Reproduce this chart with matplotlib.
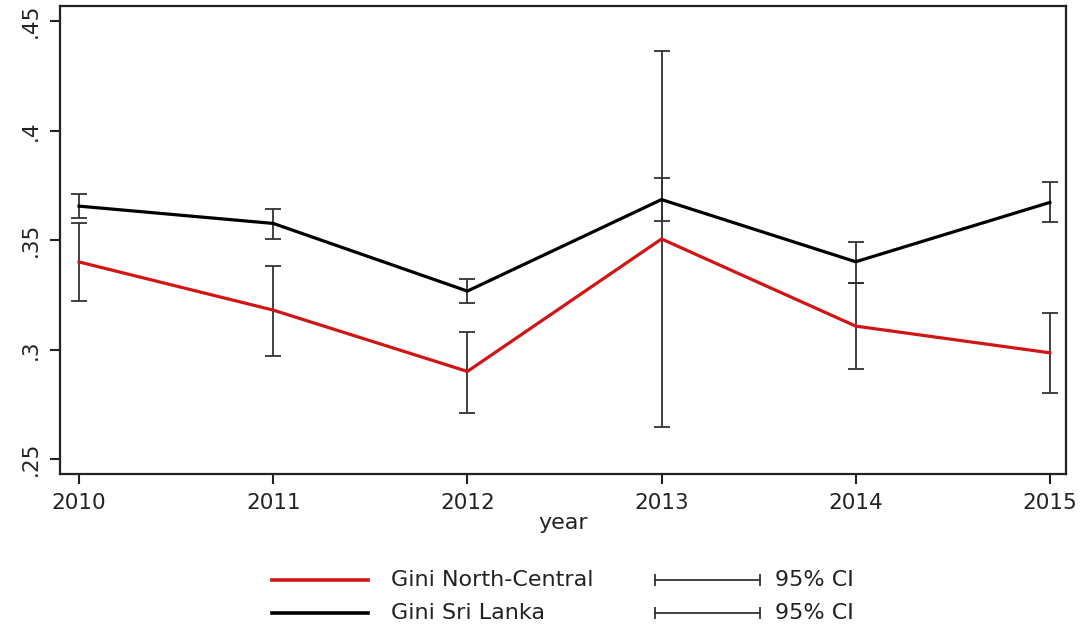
import matplotlib
matplotlib.use("Agg")
import matplotlib.pyplot as plt
from matplotlib.lines import Line2D
import numpy as np

plt.rcParams['font.family'] = ['DejaVu Sans']

years = [2010, 2011, 2012, 2013, 2014, 2015]

gini_nc = [0.340, 0.318, 0.290, 0.3505, 0.3107, 0.2985]
nc_lo = [0.322, 0.297, 0.271, 0.2645, 0.291, 0.280]
nc_hi = [0.358, 0.338, 0.308, 0.4365, 0.3304, 0.3166]

gini_sl = [0.3655, 0.3576, 0.3267, 0.3685, 0.3401, 0.3672]
sl_lo = [0.360, 0.3505, 0.3214, 0.3588, 0.3302, 0.3584]
sl_hi = [0.371, 0.364, 0.332, 0.3785, 0.3492, 0.3766]

y_ticks = [0.25, 0.30, 0.35, 0.40, 0.45]
y_labels = ['.25', '.3', '.35', '.4', '.45']

RED = '#d11414'
BAR = '#333333'
TXT = '#222222'

fig = plt.figure(figsize=(10.82, 6.26), dpi=100)
ax = fig.add_axes([0.0555, 0.243, 0.9295, 0.747])

def ci_bars(vals, lo, hi):
    vals = np.array(vals)
    err = np.vstack([vals - np.array(lo), np.array(hi) - vals])
    ax.errorbar(years, vals, yerr=err, fmt='none', ecolor=BAR,
                elinewidth=1.3, capsize=5.5, capthick=1.3, zorder=2)

ci_bars(gini_nc, nc_lo, nc_hi)
ci_bars(gini_sl, sl_lo, sl_hi)
ax.plot(years, gini_nc, color=RED, lw=2.3, zorder=3)
ax.plot(years, gini_sl, color='black', lw=2.3, zorder=3)

ax.set_xlim(2009.902, 2015.082)
ax.set_ylim(0.2432, 0.4568)
ax.set_xticks(years)
ax.set_xticklabels([str(y) for y in years], fontsize=15.5, color=TXT)
ax.set_yticks(y_ticks)
ax.set_yticklabels(y_labels, fontsize=15.5, color=TXT, rotation=90,
                   va='center')
ax.tick_params(axis='both', length=7, width=1.5, color=TXT, pad=7)
ax.set_xlabel('year', fontsize=16, color=TXT, labelpad=0)
for s in ax.spines.values():
    s.set_linewidth(1.6)
    s.set_color(TXT)

# legend drawn below the plot area
def leg_line(x0, x1, y, color, lw):
    fig.add_artist(Line2D([x0, x1], [y, y], transform=fig.transFigure,
                          color=color, lw=lw))

def leg_ci(x0, x1, y):
    fig.add_artist(Line2D([x0, x1], [y, y], transform=fig.transFigure,
                          color=BAR, lw=1.3, marker='|', markersize=9,
                          markeredgewidth=1.3))

rows = [(0.074, RED, 'Gini North-Central'), (0.020, 'black', 'Gini Sri Lanka')]
for y, c, label in rows:
    leg_line(0.251, 0.340, y, c, 2.6)
    fig.text(0.361, y, label, fontsize=16, color=TXT, va='center')
    leg_ci(0.605, 0.702, y)
    fig.text(0.716, y, '95% CI', fontsize=16, color=TXT, va='center')

fig.savefig('out.png', dpi=100)
